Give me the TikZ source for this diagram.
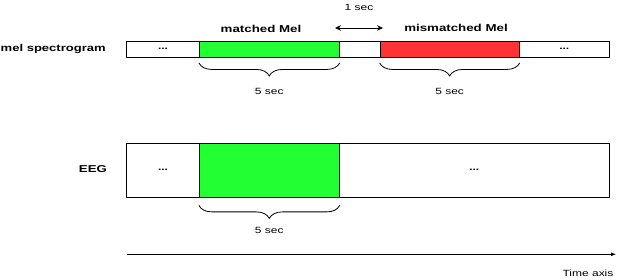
\documentclass[tikz,border=0pt]{standalone}
\usepackage{fontspec}
\setmainfont{Liberation Sans}[FakeStretch=1.33]
\usetikzlibrary{arrows.meta,decorations.pathreplacing}
\definecolor{matchgreen}{HTML}{22FF33}
\definecolor{mismatchred}{HTML}{FF3333}

\begin{document}
\begin{tikzpicture}[x=1pt,y=-1pt,line width=0.8pt,>={Stealth[length=6pt,width=5.5pt]},
  seg/.style={draw,inner sep=0pt,minimum height=16.5pt,font=\fontsize{9}{11}\selectfont\bfseries},
  eegseg/.style={draw,inner sep=0pt,minimum height=54pt,font=\fontsize{9}{11}\selectfont\bfseries},
  rowlabel/.style={font=\fontsize{10}{12}\selectfont\bfseries},
  small/.style={font=\fontsize{9}{11}\selectfont},
  sizebrace/.style={decorate,decoration={brace,mirror,amplitude=13pt}}]
  \useasboundingbox (0,0) rectangle (618,280);

  % mel spectrogram row
  \node[rowlabel,anchor=west,inner sep=0pt,font=\fontsize{9.8}{12}\selectfont\bfseries] (mellabel) at (0.3,49) {mel spectrogram};
  \node[seg,minimum width=72.6pt] (mleft) at (163,49.3) {...};
  \node[seg,fill=matchgreen,minimum width=140pt] (mmatch) at (269.3,49.3) {};
  \node[seg,minimum width=40.7pt] (mgap) at (359.65,49.3) {};
  \node[seg,fill=mismatchred,minimum width=139.3pt] (mmis) at (449.65,49.3) {};
  \node[seg,minimum width=90pt] (mright) at (564.3,49.3) {...};
  \node[rowlabel] (matchlabel) at (261,29) {matched Mel};
  \node[rowlabel] (mislabel) at (456,28) {mismatched Mel};
  \node[small] (onesec) at (359,7) {1 sec};
  \coordinate (gapl) at (335,28);
  \coordinate (gapr) at (383,28);
  \draw[<->] (gapl) -- (gapr);
  \draw[sizebrace] ([yshift=-5pt]mmatch.south west) -- ([yshift=-5pt]mmatch.south east);
  \draw[sizebrace] ([yshift=-5pt]mmis.south west) -- ([yshift=-5pt]mmis.south east);
  \node[small] (matchsec) at (269.3,91) {5 sec};
  \node[small] (missec) at (449.65,91) {5 sec};

  % EEG row
  \node[rowlabel] (eeglabel) at (93,169) {EEG};
  \node[eegseg,minimum width=72.6pt] (eleft) at (163,170) {...};
  \node[eegseg,fill=matchgreen,minimum width=140pt] (ematch) at (269.3,170) {};
  \node[eegseg,minimum width=270pt] (eright) at (474.3,170) {...};
  \draw[sizebrace] ([yshift=-8pt]ematch.south west) -- ([yshift=-8pt]ematch.south east);
  \node[small] (eegsec) at (269.3,230) {5 sec};

  % time axis
  \coordinate (tstart) at (126.7,254.3);
  \coordinate (tend) at (616,254.3);
  \draw[-{Latex[length=5pt,width=4pt]}] (tstart) -- (tend);
  \node[small] (timelabel) at (588,273) {Time axis};
\end{tikzpicture}
\end{document}
